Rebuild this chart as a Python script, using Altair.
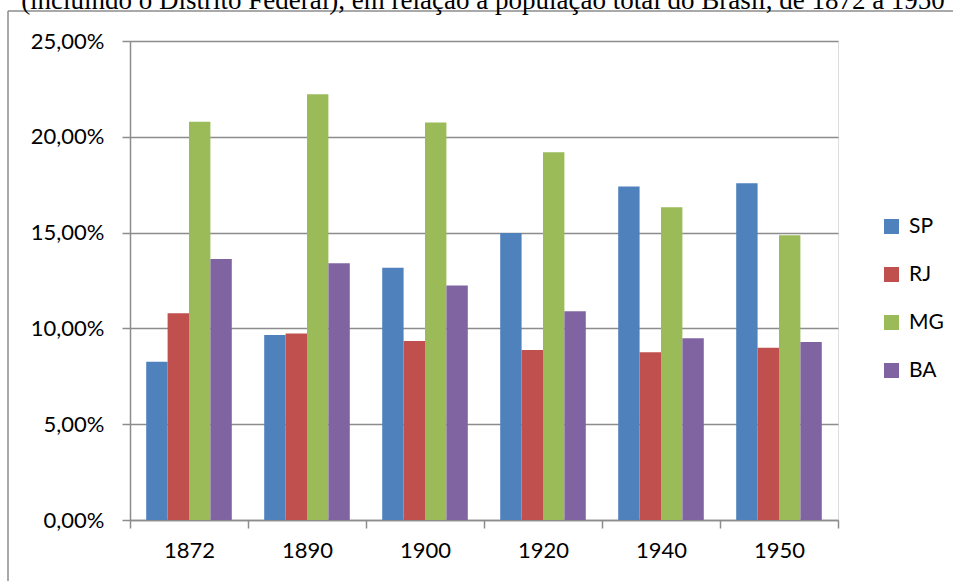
import altair as alt
import pandas as pd

years = ["1872", "1890", "1900", "1920", "1940", "1950"]
states = ["SP", "RJ", "MG", "BA"]
sp = [0.0826, 0.0966, 0.1316, 0.1498, 0.1741, 0.1758]
rj = [0.1079, 0.0974, 0.0934, 0.0887, 0.0875, 0.0899]
mg = [0.2079, 0.2222, 0.2074, 0.1920, 0.1632, 0.1486]
ba = [0.1362, 0.1340, 0.1224, 0.1089, 0.0948, 0.0929]
colors = ["#4F81BD", "#C0504D", "#9BBB59", "#8064A2"]
title_text = "(incluindo o Distrito Federal), em relação à população total do Brasil, de 1872 a 1950"

rows = []
for s, vals in zip(states, [sp, rj, mg, ba]):
    for y, v in zip(years, vals):
        rows.append({"Ano": y, "Estado": s, "Valor": v})
df = pd.DataFrame(rows)

FONT = "Lato"
GRAY = "#8c8c8c"

bars = alt.Chart(df).mark_bar().encode(
    x=alt.X("Ano:N", sort=years,
            scale=alt.Scale(paddingInner=0, paddingOuter=0),
            axis=alt.Axis(title=None, labelAngle=0, tickBand="extent", tickSize=8,
                          tickColor=GRAY, domainColor=GRAY, labelFont=FONT,
                          labelFontSize=22, labelColor="black", labelPadding=12,
                          grid=False, tickWidth=1.5, domainWidth=1.5)),
    xOffset=alt.XOffset("Estado:N", sort=states,
                        scale=alt.Scale(paddingInner=0, paddingOuter=0.757)),
    y=alt.Y("Valor:Q", scale=alt.Scale(domain=[0, 0.25], nice=False),
            axis=alt.Axis(title=None, values=[0, 0.05, 0.10, 0.15, 0.20, 0.25],
                          labelExpr="replace(format(datum.value, '.2%'), '.', ',')",
                          tickSize=8, tickColor=GRAY, domainColor=GRAY,
                          gridColor=GRAY, gridWidth=1.5, tickWidth=1.5, domainWidth=1.5,
                          labelFont=FONT, labelFontSize=22, labelColor="black",
                          labelPadding=18)),
    color=alt.Color("Estado:N", sort=states,
                    scale=alt.Scale(domain=states, range=colors),
                    legend=alt.Legend(title=None, orient="none", legendX=751, legendY=175,
                                      symbolType="square", symbolSize=225,
                                      symbolStrokeWidth=0, labelFont=FONT,
                                      labelFontSize=21, labelColor="black",
                                      rowPadding=26, labelOffset=7, padding=0)),
)

one = pd.DataFrame({"k": [0]})

left_border = alt.Chart(one).mark_rule(color=GRAY, strokeWidth=1.5).encode(
    x=alt.value(-122), y=alt.value(-30), y2=alt.value(545))
top_border = alt.Chart(one).mark_rule(color=GRAY, strokeWidth=1.5).encode(
    y=alt.value(-30), x=alt.value(-122), x2=alt.value(830))
title = alt.Chart(one).mark_text(font="Liberation Serif", fontSize=27, align="center",
                                 baseline="alphabetic", color="black").encode(
    x=alt.value(353), y=alt.value(-32), text=alt.value(title_text))

chart = alt.layer(bars, left_border, top_border, title).properties(
    width=708, height=479,
    autosize=alt.AutoSizeParams(type="none"),
    padding={"left": 130, "top": 41, "right": 115, "bottom": 61},
).configure_view(stroke=None).configure(background="white")

chart.save("out.html", embed_options={"renderer": "svg", "actions": False})
